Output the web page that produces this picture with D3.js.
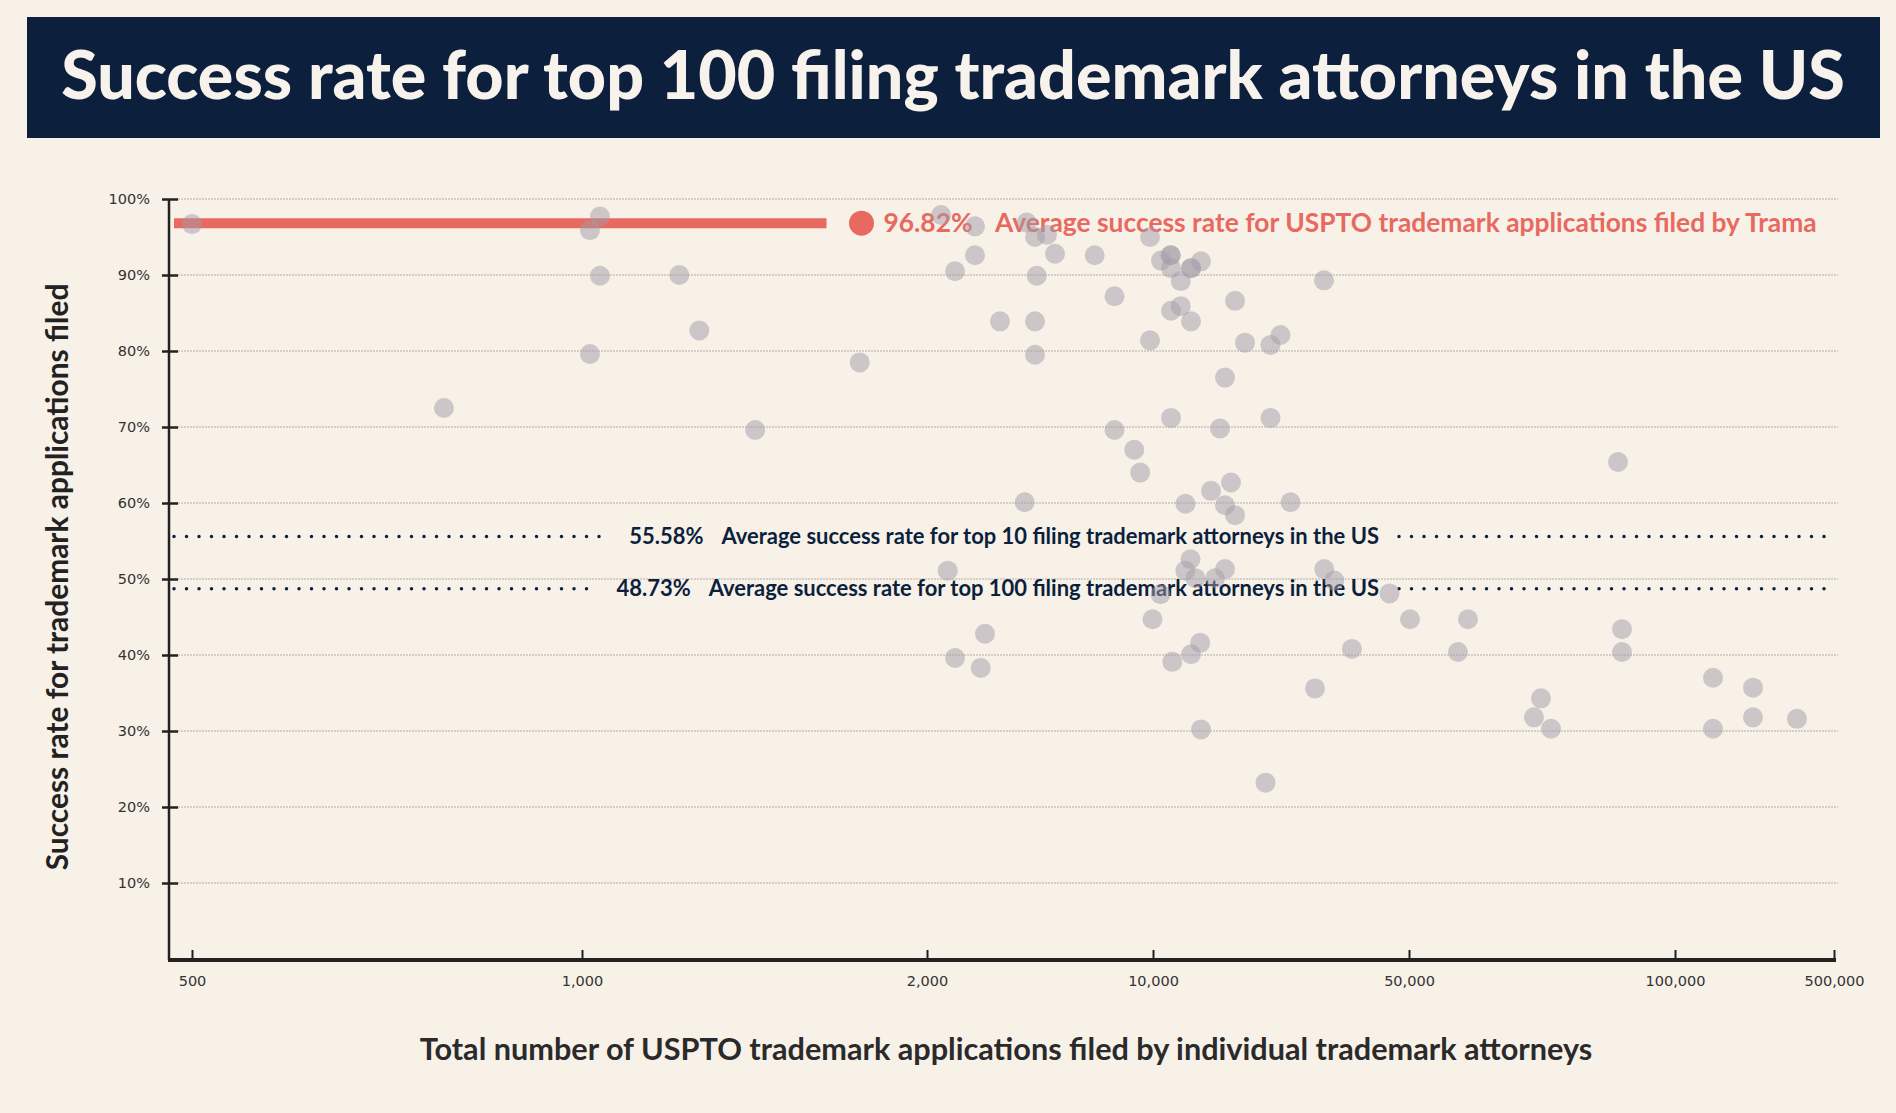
<!DOCTYPE html>
<html>
<head>
<meta charset="utf-8">
<script src="https://cdn.jsdelivr.net/npm/d3@7"></script>
<style>
  html, body { margin: 0; padding: 0; background: #f7f1e8; }
  svg { display: block; }
</style>
</head>
<body>
<svg id="chart" width="1896" height="1113"></svg>
<script>
// ---- Data ----
const titleText = "Success rate for top 100 filing trademark attorneys in the US";
const xTitle = "Total number of USPTO trademark applications filed by individual trademark attorneys";
const yTitle = "Success rate for trademark applications filed";

const xTickValues = [500, 1000, 2000, 10000, 50000, 100000, 500000];
const yTickValues = [10, 20, 30, 40, 50, 60, 70, 80, 90, 100];

// applications filed per attorney
const filings = [
  500, 823, 1052, 1023, 1052, 1023, 1282, 1340, 1502, 1805,
  2496, 3699, 3699, 2991, 5529, 5823, 6248, 6531, 5883, 7936,
  9894, 8637, 4584, 5823, 5823, 11250, 12766, 12766, 12813, 14328,
  15938, 15938, 17500, 36719, 22813, 14328, 12813, 15938, 9894, 24375,
  28359, 29922, 21250, 12813, 28359, 20469, 8637, 9338, 9547, 19063,
  22188,
  5458, 15078, 21250, 22813, 31484, 2733, 15859, 15047, 16641, 21250,
  19688, 11172, 9982, 36750, 38328, 46953, 50188, 4053, 2991, 3901,
  17375, 15938, 13016, 41078, 35313, 17500, 27578,
  89286, 90038, 90038, 195597, 195597, 296225, 296225, 406915, 74812, 73496,
  76692, 61090, 59210
];
// success rate (%) per attorney
const successRates = [
  96.7, 72.5, 97.7, 95.9, 89.9, 79.6, 90.0, 82.7, 69.6, 78.5,
  97.9, 96.4, 92.6, 90.5, 96.9, 95.0, 95.3, 92.8, 89.9, 92.6,
  95.0, 87.2, 83.9, 83.9, 79.5, 91.9, 92.6, 92.6, 90.9, 89.2,
  90.9, 90.9, 91.8, 89.3, 86.6, 85.9, 85.3, 83.9, 81.4, 81.1,
  80.8, 82.1, 76.5, 71.2, 71.2, 69.8, 69.6, 67.0, 64.0, 61.6,
  62.7,
  60.1, 59.9, 59.7, 58.4, 60.1, 51.1, 52.6, 51.1, 50.1, 51.3,
  50.1, 48.0, 44.7, 51.3, 49.8, 48.1, 44.7, 42.8, 39.6, 38.3,
  41.6, 40.1, 39.1, 40.8, 35.6, 30.2, 23.2,
  65.4, 43.4, 40.4, 37.0, 30.3, 35.7, 31.8, 31.6, 34.3, 31.8,
  30.3, 44.7, 40.4
];

const tramaRate = 96.82;
const tramaLabel = "Average success rate for USPTO trademark applications filed by Trama";
const benchmarkRates = [55.58, 48.73];
const benchmarkLabels = [
  "Average success rate for top 10 filing trademark attorneys in the US",
  "Average success rate for top 100 filing trademark attorneys in the US"
];

// ---- Layout ----
const W = 1896, H = 1113;
const navy = "#0c1f3d";
const red = "#e8695f";
const axisLeft = 169, axisBottom = 960, plotRight = 1838;
const font = "Lato, 'Open Sans', sans-serif";

const svg = d3.select("#chart");
svg.append("rect").attr("width", W).attr("height", H).attr("fill", "#f7f1e8");

// ---- Helpers ----
function fitWidth(sel, target) {
  const fs = parseFloat(sel.attr("font-size"));
  const w = sel.node().getComputedTextLength();
  sel.attr("font-size", fs * target / w);
  return fs * target / w;
}

// ---- Title ----
svg.append("rect")
  .attr("x", 27).attr("y", 17)
  .attr("width", 1853).attr("height", 121)
  .attr("fill", navy);

const title = svg.append("text")
  .attr("x", 953).attr("y", 99)
  .attr("text-anchor", "middle")
  .attr("font-family", font)
  .attr("font-weight", 900)
  .attr("font-size", 58)
  .attr("fill", "#f7f3ec")
  .text(titleText);
fitWidth(title, 1784);

// ---- Scales ----
// piecewise linear x axis: ticks are evenly labelled but spaced unevenly
const x = d3.scaleLinear()
  .domain(xTickValues)
  .range([192, 582, 927, 1153, 1409, 1675, 1834]);

const y = d3.scaleLinear().domain([0, 100]).range([959, 199]);

// ---- Grid ----
svg.append("g").selectAll("line")
  .data(yTickValues)
  .join("line")
  .attr("x1", 178).attr("x2", plotRight)
  .attr("y1", d => y(d)).attr("y2", d => y(d))
  .attr("stroke", "#b3aea7")
  .attr("stroke-width", 1)
  .attr("stroke-dasharray", "2,1");

// ---- Y axis ----
const yAxis = svg.append("g")
  .attr("transform", `translate(${axisLeft},0)`)
  .call(d3.axisLeft(y).tickValues(yTickValues).tickFormat(d => d + "%").tickSize(0).tickPadding(19));
yAxis.select(".domain").remove();
yAxis.selectAll("text")
  .attr("font-family", "'DejaVu Sans', sans-serif")
  .attr("font-size", 14.5)
  .attr("fill", "#333");
yAxis.append("line")
  .attr("x1", 0).attr("x2", 0)
  .attr("y1", y(100)).attr("y2", axisBottom)
  .attr("stroke", "#222").attr("stroke-width", 2.5);
yAxis.selectAll(".tick").append("line")
  .attr("x1", -7).attr("x2", 9)
  .attr("stroke", "#222").attr("stroke-width", 2.5);

// ---- X axis ----
const xAxis = svg.append("g")
  .attr("transform", `translate(0,${axisBottom})`)
  .call(d3.axisBottom(x).tickValues(xTickValues).tickFormat(d3.format(",")).tickSize(0).tickPadding(16));
xAxis.select(".domain").remove();
xAxis.selectAll("text")
  .attr("font-family", "'DejaVu Sans', sans-serif")
  .attr("font-size", 14.5)
  .attr("fill", "#333");
xAxis.append("line")
  .attr("x1", axisLeft - 1).attr("x2", x(500000) + 2)
  .attr("stroke", "#222").attr("stroke-width", 4);
xAxis.selectAll(".tick").append("line")
  .attr("y1", -10).attr("y2", 1)
  .attr("stroke", "#222").attr("stroke-width", 2);

// ---- Axis titles ----
const yt = svg.append("text")
  .attr("transform", "translate(68,577) rotate(-90)")
  .attr("text-anchor", "middle")
  .attr("font-family", font)
  .attr("font-weight", 700)
  .attr("font-size", 23)
  .attr("fill", "#222")
  .text(yTitle);
fitWidth(yt, 587);

const xt = svg.append("text")
  .attr("x", 1006).attr("y", 1060)
  .attr("text-anchor", "middle")
  .attr("font-family", font)
  .attr("font-weight", 700)
  .attr("font-size", 24)
  .attr("fill", "#2a2a2a")
  .text(xTitle);
fitWidth(xt, 1173);

// ---- Benchmark lines ----
const bench = svg.append("g");
let benchSize = null;
benchmarkRates.forEach((rate, i) => {
  const yy = y(rate);
  const desc = bench.append("text")
    .attr("x", 1379).attr("y", yy).attr("dy", "0.35em")
    .attr("text-anchor", "end")
    .attr("font-family", font)
    .attr("font-weight", 700)
    .attr("font-size", benchSize || 20)
    .attr("fill", navy)
    .text(benchmarkLabels[i]);
  if (!benchSize) benchSize = fitWidth(desc, 658);
  const descStart = 1379 - desc.node().getComputedTextLength();
  const num = bench.append("text")
    .attr("x", descStart - 18).attr("y", yy).attr("dy", "0.35em")
    .attr("text-anchor", "end")
    .attr("font-family", font)
    .attr("font-weight", 700)
    .attr("font-size", benchSize)
    .attr("fill", navy)
    .text(rate.toFixed(2) + "%");
  const numStart = descStart - 18 - num.node().getComputedTextLength();
  [[axisLeft + 5, numStart - 20], [1399, 1828]].forEach(([a, b]) => {
    bench.append("line")
      .attr("x1", a).attr("x2", b)
      .attr("y1", yy).attr("y2", yy)
      .attr("stroke", navy)
      .attr("stroke-width", 3.5)
      .attr("stroke-linecap", "round")
      .attr("stroke-dasharray", "0 12.5");
  });
});

// ---- Trama line ----
const tramaY = y(tramaRate);
const dotX = 861.5;
svg.append("line")
  .attr("x1", 174).attr("x2", dotX - 35)
  .attr("y1", tramaY).attr("y2", tramaY)
  .attr("stroke", red).attr("stroke-width", 10);
svg.append("circle")
  .attr("cx", dotX).attr("cy", tramaY).attr("r", 12.5)
  .attr("fill", red);
const tNum = svg.append("text")
  .attr("x", dotX + 22).attr("y", tramaY).attr("dy", "0.35em")
  .attr("font-family", font)
  .attr("font-weight", 700)
  .attr("font-size", 24)
  .attr("fill", red)
  .text(tramaRate.toFixed(2) + "%");
const tDesc = svg.append("text")
  .attr("x", 995).attr("y", tramaY).attr("dy", "0.35em")
  .attr("font-family", font)
  .attr("font-weight", 700)
  .attr("font-size", 24)
  .attr("fill", red)
  .text(tramaLabel);
tNum.attr("font-size", fitWidth(tDesc, 822));

// ---- Points ----
const points = filings.map((f, i) => ({ filings: f, rate: successRates[i] }));
svg.append("g").selectAll("circle")
  .data(points)
  .join("circle")
  .attr("cx", d => x(d.filings))
  .attr("cy", d => y(d.rate))
  .attr("r", 10)
  .attr("fill", "#a39ca7")
  .attr("fill-opacity", 0.5);
</script>
</body>
</html>
